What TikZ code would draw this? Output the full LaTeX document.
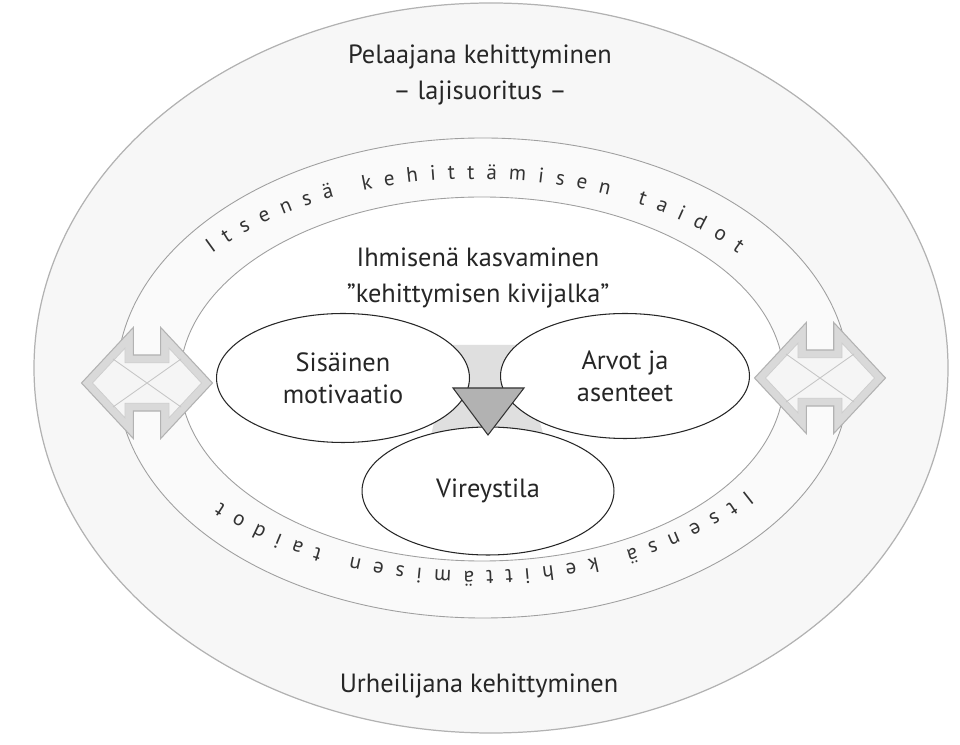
\documentclass[tikz,border=0pt]{standalone}
\usepackage{fontspec}
\setmainfont{PT Sans}
\usetikzlibrary{shapes.geometric,shapes.arrows,decorations.text}

\begin{document}
\begin{tikzpicture}[x=0.02cm, y=0.02cm,
  oval/.style={ellipse, draw=black!85, fill=white, line width=0.6pt, inner sep=0pt, align=center, font=\fontsize{15}{18}\selectfont, text=black!85},
  lbl/.style={align=center, font=\fontsize{15}{20}\selectfont, text=black!85},
  band/.style={draw=gray!75, line width=0.5pt},
  dbl/.style={double arrow, double arrow tip angle=94, double arrow head extend=0.55cm, minimum height=2.62cm, inner xsep=0pt, inner ysep=0.55cm, fill=gray!30, draw=gray!60, line width=0.6pt},
  dblin/.style={double arrow, double arrow tip angle=94, double arrow head extend=0.29cm, minimum height=2.18cm, inner xsep=0pt, inner ysep=0.4cm, fill=gray!8, draw=gray!40},
  xline/.style={draw=gray!45, line width=0.5pt},
  skills/.style={font=\fontsize{12}{14}\selectfont, decorate, decoration={text effects along path, text={Itsensä kehittämisen taidot}, text align=center, text effects/.cd, text along path, character widths={inner xsep=3.4pt}, characters={text=black!80}}}
]
  \useasboundingbox (0,0) rectangle (960,744);
  \draw[draw=gray!60, fill=gray!6, line width=0.7pt] (491,376) ellipse[x radius=457, y radius=365];
  \draw[band, fill=gray!4] (483,366) ellipse[x radius=366, y radius=240];
  \draw[band, fill=white] (482,365) ellipse[x radius=302, y radius=182];
  \path[skills] (475,369) ++(180:335 and 196) arc[start angle=180, end angle=0, x radius=335, y radius=196];
  \path[skills] (475,369) ++(-1:335 and 196) arc[start angle=-1, end angle=-173, x radius=335, y radius=196];
  \fill[gray!25] (452,399) -- (517,399) -- (545,304) -- (488,299) -- (430,304) -- cycle;
  \node[oval, minimum width=5.06cm, minimum height=2.58cm] (sis) at (343,366) {Sisäinen\\motivaatio};
  \node[oval, minimum width=4.98cm, minimum height=2.5cm] (arv) at (625,368) {Arvot ja\\asenteet};
  \node[oval, minimum width=5.04cm, minimum height=2.56cm] (vir) at (488,253) {Vireystila};
  \draw[fill=gray!60, draw=black!80, line width=0.6pt] (453,356) -- (524,356) -- (488,309) -- cycle;
  \node[dbl] (la) at (147,361) {};
  \node[dblin] (lai) at (la.center) {};
  \draw[xline] ([shift={(-34,-24)}]lai.center) -- ([shift={(34,24)}]lai.center);
  \draw[xline] ([shift={(-34,24)}]lai.center) -- ([shift={(34,-24)}]lai.center);
  \node[dbl] (ra) at (820,366) {};
  \node[dblin] (rai) at (ra.center) {};
  \draw[xline] ([shift={(-34,-24)}]rai.center) -- ([shift={(34,24)}]rai.center);
  \draw[xline] ([shift={(-34,24)}]rai.center) -- ([shift={(34,-24)}]rai.center);
  \node[lbl] (player) at (480,669) {Pelaajana kehittyminen\\– lajisuoritus –};
  \node[lbl] (human) at (478,466) {Ihmisenä kasvaminen\\”kehittymisen kivijalka”};
  \node[lbl] (athlete) at (479,58) {Urheilijana kehittyminen};
\end{tikzpicture}
\end{document}
